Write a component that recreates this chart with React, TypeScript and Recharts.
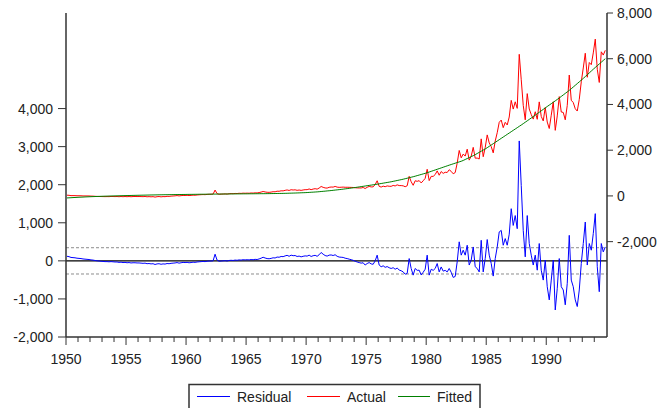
import React from 'react';
import { ComposedChart, Line, XAxis, YAxis, ReferenceLine } from 'recharts';

// bimonthly observations, 1950 .. 1994 (six per year)
const residual = [
  120, 110, 90, 85, 80, 70, // 1950
  65, 60, 50, 45, 40, 35,
  25, 20, 10, 0, -5, -10,
  -15, -20, -20, -25, -20, -25,
  -30, -30, -40, -35, -45, -40,
  -50, -45, -55, -50, -50, -55, // 1955
  -55, -60, -65, -60, -75, -70,
  -80, -75, -95, -80, -75, -90,
  -80, -85, -70, -75, -65, -60,
  -55, -45, -60, -50, -40, -45,
  -40, -50, -45, -35, -40, -30, // 1960
  -25, -20, -15, -20, -10, -5,
  -5, 0, 175, 20, -10, -5,
  0, 5, -5, 10, 15, 10,
  20, 15, 25, 20, 30, 25,
  30, 25, 35, 30, 40, 35, // 1965
  50, 70, 95, 75, 60, 55,
  65, 80, 75, 100, 95, 115,
  110, 130, 145, 120, 150, 135,
  140, 115, 125, 105, 120, 130,
  125, 150, 115, 135, 145, 120, // 1970
  160, 220, 175, 140, 125, 150,
  155, 140, 160, 120, 100, 95,
  90, 70, 60, 45, 30, 15,
  -10, -30, -45, -60, -50, -110,
  -70, -45, -80, -90, 0, 150, // 1975
  -110, -155, -130, -170, -150, -180,
  -200, -180, -220, -190, -240, -260,
  -290, -350, -330, 60, -200, -375,
  -200, -250, -245, -370, -300, -220,
  150, -375, -220, -250, -200, -70, // 1980
  -290, -160, -270, -250, -290, -200,
  -300, -435, -410, -25, 500, 150,
  280, 150, 410, -110, 20, 365,
  -155, -200, -290, 540, -290, 60,
  560, 150, -70, -400, 60, 365, // 1985
  760, 800, 410, 585, 410, 700,
  1370, 930, 1190, 845, 3150, 1980,
  800, 105, 1190, 455, 150, -110,
  150, -245, 455, -245, -505, 20,
  -680, -1025, -505, 20, -1290, -720, // 1990
  60, -680, -765, -1155, -590, 670,
  -505, -680, -1025, -1200, -765, -70,
  455, 1020, -110, 455, 280, 715,
  1240, -155, -810, 455, 235, 365,
];

const fitted = [
  -88, -83, -78, -72, -68, -63, // 1950
  -58, -54, -50, -45, -41, -37,
  -33, -30, -27, -23, -20, -17,
  -14, -11, -9, -6, -4, -1,
  1, 4, 6, 9, 11, 14,
  16, 18, 20, 23, 25, 27, // 1955
  29, 31, 33, 35, 37, 39,
  41, 43, 44, 46, 48, 49,
  51, 52, 53, 55, 56, 57,
  59, 60, 61, 62, 63, 64,
  66, 67, 68, 69, 70, 71, // 1960
  73, 74, 74, 75, 76, 77,
  78, 79, 80, 81, 82, 83,
  83, 84, 85, 86, 87, 88,
  88, 89, 90, 90, 91, 92,
  92, 93, 94, 94, 95, 96, // 1965
  97, 98, 98, 99, 100, 101,
  103, 104, 105, 107, 108, 109,
  111, 114, 116, 119, 121, 124,
  127, 130, 133, 137, 140, 143,
  148, 154, 160, 165, 171, 177, // 1970
  184, 193, 201, 209, 218, 226,
  235, 245, 255, 265, 275, 285,
  296, 308, 319, 331, 343, 354,
  367, 380, 393, 407, 420, 433,
  447, 460, 473, 487, 500, 513, // 1975
  528, 543, 558, 573, 588, 603,
  619, 638, 656, 674, 693, 711,
  731, 753, 774, 796, 818, 839,
  863, 888, 913, 938, 963, 988,
  1015, 1045, 1075, 1105, 1135, 1165, // 1980
  1195, 1225, 1255, 1285, 1315, 1345,
  1374, 1403, 1431, 1459, 1488, 1516,
  1551, 1593, 1634, 1676, 1718, 1759,
  1805, 1855, 1905, 1955, 2005, 2055,
  2109, 2168, 2226, 2284, 2343, 2401, // 1985
  2459, 2518, 2576, 2634, 2693, 2751,
  2809, 2868, 2926, 2984, 3043, 3101,
  3161, 3223, 3284, 3346, 3408, 3469,
  3532, 3595, 3658, 3722, 3785, 3848,
  3911, 3973, 4034, 4096, 4158, 4219, // 1990
  4283, 4350, 4417, 4483, 4550, 4617,
  4688, 4763, 4838, 4912, 4988, 5063,
  5140, 5220, 5300, 5380, 5460, 5540,
  5618, 5695, 5772, 5848, 5925, 6002,
];

const yearTicks = [
  1950, 1951, 1952, 1953, 1954, 1955, 1956, 1957, 1958, 1959,
  1960, 1961, 1962, 1963, 1964, 1965, 1966, 1967, 1968, 1969,
  1970, 1971, 1972, 1973, 1974, 1975, 1976, 1977, 1978, 1979,
  1980, 1981, 1982, 1983, 1984, 1985, 1986, 1987, 1988, 1989,
  1990, 1991, 1992, 1993, 1994,
];
const residualTicks = [-2000, -1000, 0, 1000, 2000, 3000, 4000];
const actualTicks = [-2000, 0, 2000, 4000, 6000, 8000];
const seBand = 345;

const data = residual.map((r, i) => ({
  t: 1950 + (i + 0.5) / 6,
  residual: r,
  fitted: fitted[i],
  actual: fitted[i] + r,
}));

const FONT = '"Liberation Sans", Arial, sans-serif';
const TEXT = '#222';
const FRAME = '#333';

const fmt = (v: number) => v.toLocaleString('en-US');

const YearTick = ({ x, y, payload }: any) => {
  const major = payload.value % 5 === 0;
  return (
    <g>
      <line x1={x} x2={x} y1={y} y2={y + (major ? 8 : 5)} stroke={FRAME} />
      {major && (
        <text x={x} y={y + 27} textAnchor="middle" fill={TEXT} fontSize={14} fontFamily={FONT}>
          {payload.value}
        </text>
      )}
    </g>
  );
};

const LegendBox = () => (
  <svg width={658} height={408} style={{ position: 'absolute', left: 0, top: 0, pointerEvents: 'none' }}>
    <rect x={189} y={384.5} width={291} height={40} fill="#fff" stroke={FRAME} strokeWidth={1.5} />
    <line x1={197} x2={230} y1={396.5} y2={396.5} stroke="#0000ff" />
    <text x={237} y={401.5} fontSize={14} fontFamily={FONT} fill={TEXT}>Residual</text>
    <line x1={307} x2={340} y1={396.5} y2={396.5} stroke="#ff0000" />
    <text x={347} y={401.5} fontSize={14} fontFamily={FONT} fill={TEXT}>Actual</text>
    <line x1={398} x2={430} y1={396.5} y2={396.5} stroke="#008000" />
    <text x={437} y={401.5} fontSize={14} fontFamily={FONT} fill={TEXT}>Fitted</text>
  </svg>
);

export default function App() {
  return (
    <div style={{ position: 'absolute', left: 0, top: 0, width: 658, height: 408, background: '#fff', overflow: 'hidden' }}>
      <ComposedChart width={658} height={408} data={data} margin={{ top: 13, right: 0, bottom: 0, left: 0 }}>
        <XAxis
          dataKey="t"
          type="number"
          domain={[1950, 1995.06]}
          ticks={yearTicks}
          interval={0}
          height={71}
          tickSize={0}
          tickMargin={0}
          tickLine={false}
          axisLine={{ stroke: FRAME, strokeWidth: 1.5 }}
          tick={<YearTick />}
          allowDataOverflow
        />
        <XAxis
          xAxisId="top"
          dataKey="t"
          type="number"
          orientation="top"
          domain={[1950, 1995.06]}
          height={0}
          tick={false}
          tickLine={false}
          axisLine={{ stroke: FRAME, strokeWidth: 1.5 }}
        />
        <YAxis
          yAxisId="res"
          orientation="left"
          width={66}
          domain={[-2000, 6510]}
          ticks={residualTicks}
          interval={0}
          allowDataOverflow
          tickFormatter={fmt}
          tickSize={8}
          tickMargin={5}
          axisLine={{ stroke: FRAME, strokeWidth: 1.5 }}
          tickLine={{ stroke: FRAME }}
          tick={{ fill: TEXT, fontSize: 14, fontFamily: FONT }}
        />
        <YAxis
          yAxisId="act"
          orientation="right"
          width={51}
          domain={[-6170, 8000]}
          ticks={actualTicks}
          interval={0}
          allowDataOverflow
          tickFormatter={fmt}
          tickSize={6}
          tickMargin={4}
          axisLine={{ stroke: FRAME, strokeWidth: 1.5 }}
          tickLine={{ stroke: FRAME }}
          tick={{ fill: TEXT, fontSize: 14, fontFamily: FONT }}
        />
        <ReferenceLine yAxisId="res" y={seBand} stroke="#8c8c8c" strokeDasharray="3 2" />
        <ReferenceLine yAxisId="res" y={-seBand} stroke="#8c8c8c" strokeDasharray="3 2" />
        <ReferenceLine yAxisId="res" y={0} stroke="#000" strokeWidth={1.2} />
        <Line yAxisId="res" dataKey="residual" name="Residual" type="linear" stroke="#0000ff" strokeWidth={1} dot={false} isAnimationActive={false} />
        <Line yAxisId="act" dataKey="actual" name="Actual" type="linear" stroke="#ff0000" strokeWidth={1} dot={false} isAnimationActive={false} />
        <Line yAxisId="act" dataKey="fitted" name="Fitted" type="linear" stroke="#008000" strokeWidth={1} dot={false} isAnimationActive={false} />
      </ComposedChart>
      <LegendBox />
    </div>
  );
}
